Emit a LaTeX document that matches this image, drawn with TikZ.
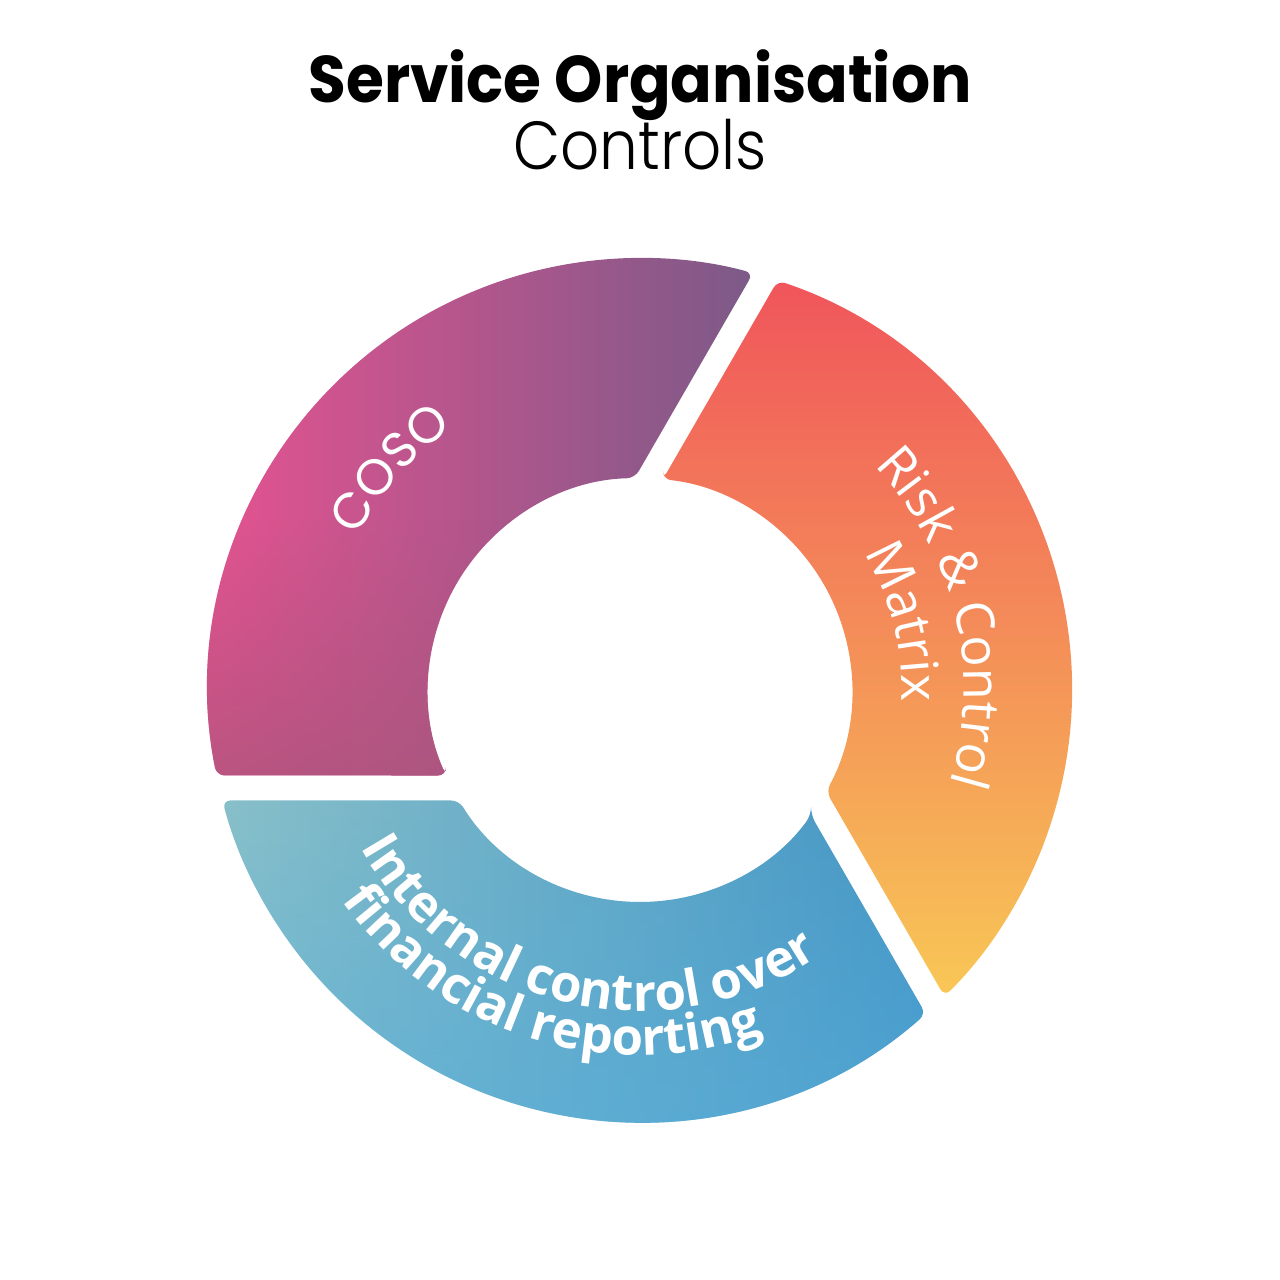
\documentclass[tikz,border=0pt]{standalone}
\usepackage{fontspec}
\usepackage{graphicx}
\usetikzlibrary{decorations.text,fadings}
\setmainfont{Poppins}
\newfontfamily\poppins{Poppins}
\IfFontExistsTF{Poppins Light}{\newfontfamily\poplight{Poppins Light}}{\newfontfamily\poplight{Poppins}}
\newfontfamily\osans{Open Sans}
\definecolor{cosoL}{HTML}{EC5291}
\definecolor{cosoR}{HTML}{7C5A88}
\definecolor{cosoD}{HTML}{A8557A}
\definecolor{riskT}{HTML}{F0555B}
\definecolor{riskM}{HTML}{F39259}
\definecolor{riskB}{HTML}{F8C756}
\definecolor{icfrL}{HTML}{88C0C9}
\definecolor{icfrR}{HTML}{4395C5}
\definecolor{icfrD}{HTML}{58B0DE}
\tikzfading[name=fadebottom, top color=transparent!100, middle color=transparent!100, bottom color=transparent!0]
\tikzset{
  seg/.style={rounded corners=4pt},
  ringtext/.style={decorate, decoration={text along path, text align=center}}
}
\def\cosof{\color{white}\poppins\fontsize{25}{30}\selectfont}
\def\riskf{\color{white}\osans\fontsize{26}{30}\selectfont}
\def\icfrf{\color{white}\osans\bfseries\fontsize{25.5}{30}\selectfont}
\begin{document}
\begin{tikzpicture}[x=0.5pt,y=0.5pt]
\useasboundingbox (-640,-590) rectangle (640,690);
% title
\node[anchor=base, inner sep=0pt, font={\poppins\bfseries\fontsize{33}{40}\selectfont}] (t1) at (0,587) {\scalebox{0.93}[1]{Service Organisation}};
\node[anchor=base, inner sep=0pt, font={\poplight\fontsize{34}{40}\selectfont}] (t2) at (0,520) {\scalebox{0.9}[1]{Controls}};
% COSO segment
\shade[seg, left color=cosoL, right color=cosoR]
  (203.79:212) -- (191.41:432) arc[start angle=191.41, end angle=74.82, radius=432]
  -- (91.41:212) arc[start angle=91.41, end angle=203.79, radius=212] -- cycle;
\begin{scope}
\clip[seg]
  (203.79:212) -- (191.41:432) arc[start angle=191.41, end angle=74.82, radius=432]
  -- (91.41:212) arc[start angle=91.41, end angle=203.79, radius=212] -- cycle;
\fill[cosoD, path fading=fadebottom, fill opacity=0.7] (-440,-90) rectangle (0,170);
\end{scope}
% Risk segment
\shade[seg, top color=riskT, middle color=riskM, bottom color=riskB]
  (83.79:212) -- (71.41:432) arc[start angle=71.41, end angle=-45.18, radius=432]
  -- (-28.59:212) arc[start angle=-28.59, end angle=83.79, radius=212] -- cycle;
% ICFR segment
\shade[seg, left color=icfrL, right color=icfrR]
  (323.79:212) -- (311.41:432) arc[start angle=311.41, end angle=194.82, radius=432]
  -- (211.41:212) arc[start angle=211.41, end angle=323.79, radius=212] -- cycle;
\fill[seg, icfrD, path fading=fadebottom, fill opacity=0.6]
  (323.79:212) -- (311.41:432) arc[start angle=311.41, end angle=194.82, radius=432]
  -- (211.41:212) arc[start angle=211.41, end angle=323.79, radius=212] -- cycle;
% texts
\path[ringtext, decoration={text={|\cosof|COSO}}]
  (165:322) arc[start angle=165, end angle=112, radius=322];
\path[ringtext, decoration={text={|\riskf|Risk {\&} Control}}]
  (60:324) arc[start angle=60, end angle=-33, radius=324];
\path[ringtext, decoration={text={|\riskf|Matrix}}]
  (45:262) arc[start angle=45, end angle=-16, radius=262];
\path[ringtext, decoration={text={|\icfrf|Internal control over}}]
  (190:321) arc[start angle=190, end angle=323.4, radius=321];
\path[ringtext, decoration={text={|\icfrf|financial reporting}}]
  (185:365) arc[start angle=185, end angle=320, radius=365];
\end{tikzpicture}
\end{document}
